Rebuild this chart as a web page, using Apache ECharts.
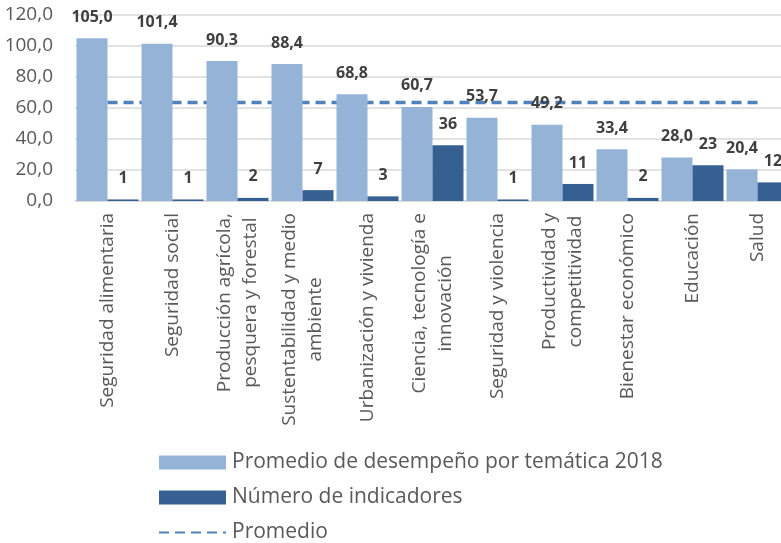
<!DOCTYPE html>
<html>
<head>
<meta charset="utf-8">
<script src="https://cdn.jsdelivr.net/npm/echarts@6/dist/echarts.min.js"></script>
<style>
    html, body { margin: 0; padding: 0; background: #fff; }
    #main { width: 781px; height: 543px; }
</style>
</head>
<body>
<div id="main"></div>
<script>
    // categorías (con salto de línea como en el original)
    var categorias = [
        'Seguridad alimentaria',
        'Seguridad social',
        'Producción agrícola,\npesquera y forestal',
        'Sustentabilidad y medio\nambiente',
        'Urbanización y vivienda',
        'Ciencia, tecnología e\ninnovación',
        'Seguridad y violencia',
        'Productividad y\ncompetitividad',
        'Bienestar económico',
        'Educación',
        'Salud'
    ];
    var desempeno = [105.0, 101.4, 90.3, 88.4, 68.8, 60.7, 53.7, 49.2, 33.4, 28.0, 20.4];
    var indicadores = [1, 1, 2, 7, 3, 36, 1, 11, 2, 23, 12];
    var promedio = [63.6, 63.6, 63.6, 63.6, 63.6, 63.6, 63.6, 63.6, 63.6, 63.6, 63.6];
    var ticksY = [0, 20, 40, 60, 80, 100, 120];

    var fuente = 'Open Sans';
    var coma = function (v, d) { return v.toFixed(d).replace('.', ','); };

    var option = {
        animation: false,
        textStyle: { fontFamily: fuente },
        grid: { left: 75, top: 15, width: 715, height: 186, containLabel: false, outerBoundsMode: 'none' },
        legend: {
            orient: 'vertical',
            left: 158,
            top: 452,
            height: 140,
            padding: 0,
            itemWidth: 67,
            itemHeight: 14,
            itemGap: 14,
            textStyle: { fontSize: 21, color: '#595959', fontFamily: fuente, padding: [0, 0, 0, 1] },
            data: [
                { name: 'Promedio de desempeño por temática 2018', icon: 'rect' },
                { name: 'Número de indicadores', icon: 'rect' },
                { name: 'Promedio', itemStyle: { color: 'rgba(0,0,0,0)', borderWidth: 0 } }
            ]
        },
        xAxis: {
            type: 'category',
            data: categorias,
            axisTick: { show: false },
            axisLine: { lineStyle: { color: '#d9d9d9', width: 1.5 } },
            axisLabel: {
                interval: 0,
                rotate: 90,
                margin: 12,
                fontSize: 19,
                lineHeight: 26,
                color: '#595959',
                fontFamily: fuente,
                formatter: function (v) {
                    return v.split('\n').map(function (s) { return '{c|' + s + '}'; }).join('\n');
                },
                rich: { c: { align: 'center', fontSize: 19, lineHeight: 26, color: '#595959', fontFamily: fuente } }
            }
        },
        yAxis: {
            type: 'value',
            min: ticksY[0],
            max: ticksY[ticksY.length - 1],
            interval: 20,
            axisLine: { show: false },
            axisTick: { show: false },
            splitLine: { lineStyle: { color: '#d9d9d9', width: 1.5 } },
            axisLabel: {
                margin: 22,
                fontSize: 19,
                color: '#595959',
                fontFamily: fuente,
                formatter: function (v) { return coma(v, 1); }
            }
        },
        series: [
            {
                name: 'Promedio de desempeño por temática 2018',
                type: 'bar',
                data: desempeno,
                barWidth: 31,
                barGap: '0%',
                itemStyle: { color: '#95B3D7' },
                label: {
                    show: true,
                    position: 'top',
                    distance: 13,
                    fontSize: 16,
                    fontWeight: 'bold',
                    color: '#404040',
                    fontFamily: fuente,
                    formatter: function (p) { return coma(p.value, 1); }
                }
            },
            {
                name: 'Número de indicadores',
                type: 'bar',
                data: indicadores,
                barWidth: 31,
                barGap: '0%',
                itemStyle: { color: '#366092' },
                label: {
                    show: true,
                    position: 'top',
                    distance: 13,
                    fontSize: 16,
                    fontWeight: 'bold',
                    color: '#404040',
                    fontFamily: fuente
                }
            },
            {
                name: 'Promedio',
                type: 'line',
                data: promedio,
                symbol: 'none',
                z: 1,
                lineStyle: { color: '#4F81BD', width: 3.5, type: [10, 6] },
                itemStyle: { color: '#4F81BD' }
            }
        ]
    };

    var chart = echarts.init(document.getElementById('main'));
    chart.setOption(option);
</script>
</body>
</html>
